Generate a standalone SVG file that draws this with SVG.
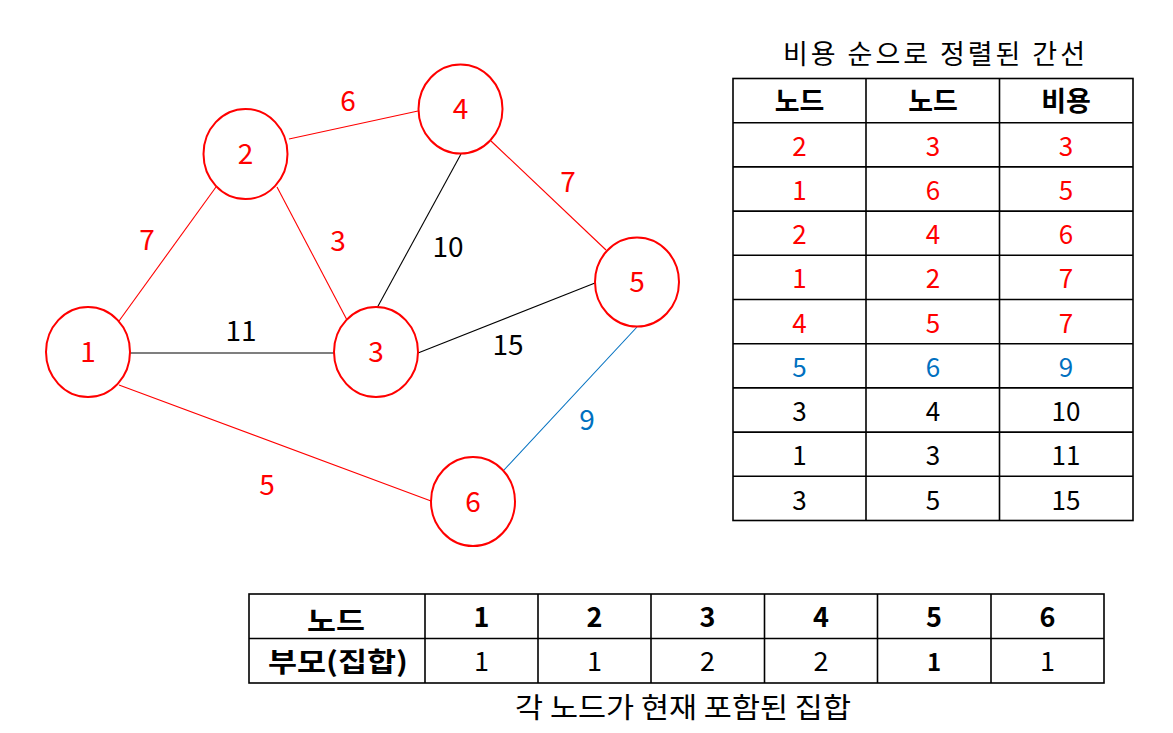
<svg xmlns="http://www.w3.org/2000/svg" width="1173" height="733" viewBox="0 0 1173 733">
<style>
text{font-family:"Noto Sans CJK KR","Noto Sans",sans-serif;text-anchor:middle;}
.node ellipse{fill:#fff;stroke:#FF0000;stroke-width:2;}
.node text{fill:#FF0000;font-size:28px;}
.e{stroke-width:1.1;fill:none;}
.red{stroke:#FF0000;}
.blk{stroke:#000;}
.blu{stroke:#0070C0;}
.lab{font-size:28px;}
.tr{fill:#FF0000;}
.tb{fill:#0070C0;}
.tk{fill:#000;}
.grid{stroke:#000;stroke-width:1.6;fill:none;}
.cell{font-size:26px;}
.hdr{font-size:27px;font-weight:bold;fill:#000;}
.bt{font-size:27px;fill:#000;}
.btb{font-size:27px;font-weight:bold;fill:#000;}
</style>
<rect width="1173" height="733" fill="#fff"/>
<g id="connectors">
<line class="e red" x1="119" y1="321" x2="216" y2="187"/>
<line class="e red" x1="289" y1="139" x2="418" y2="111"/>
<line class="e red" x1="277" y1="187" x2="347" y2="320"/>
<line class="e blk" x1="377" y1="308" x2="461" y2="154"/>
<line class="e blk" x1="130" y1="353" x2="335" y2="353"/>
<line class="e blk" x1="418" y1="353" x2="595" y2="283"/>
<line class="e red" x1="491" y1="141" x2="606" y2="250"/>
<line class="e red" x1="119" y1="385" x2="431" y2="501"/>
<line class="e blu" x1="637" y1="327" x2="504" y2="470"/>
<text class="lab tr" x="348" y="111">6</text>
<text class="lab tr" x="147" y="250">7</text>
<text class="lab tr" x="338" y="251">3</text>
<text class="lab tk" x="448" y="257">10</text>
<text class="lab tr" x="568" y="192">7</text>
<text class="lab tk" x="241" y="341">11</text>
<text class="lab tk" x="508" y="355">15</text>
<text class="lab tb" x="587" y="430">9</text>
<text class="lab tr" x="267" y="495">5</text>
</g>
<g id="node1" class="node"><ellipse cx="88" cy="352" rx="42" ry="45"/><text x="88" y="362">1</text></g>
<g id="node2" class="node"><ellipse cx="245.5" cy="154" rx="42" ry="45"/><text x="245.5" y="164">2</text></g>
<g id="node3" class="node"><ellipse cx="376" cy="352" rx="42" ry="45"/><text x="376" y="362">3</text></g>
<g id="node4" class="node"><ellipse cx="460.5" cy="109" rx="42" ry="44.5"/><text x="460.5" y="119">4</text></g>
<g id="node5" class="node"><ellipse cx="637" cy="282" rx="42" ry="44.5"/><text x="637" y="292">5</text></g>
<g id="node6" class="node"><ellipse cx="473" cy="501.5" rx="42" ry="44.5"/><text x="473" y="511.5">6</text></g>

<g id="sorted-edges-table">
<text x="934" y="64" font-size="27" fill="#000" textLength="302" lengthAdjust="spacing">비용 순으로 정렬된 간선</text>
<rect class="grid" x="733" y="78.5" width="400" height="442"/>
<line class="grid" x1="866" y1="78.5" x2="866" y2="520.5"/>
<line class="grid" x1="999.5" y1="78.5" x2="999.5" y2="520.5"/>
<line class="grid" x1="733" y1="122.7" x2="1133" y2="122.7"/>
<line class="grid" x1="733" y1="166.9" x2="1133" y2="166.9"/>
<line class="grid" x1="733" y1="211.1" x2="1133" y2="211.1"/>
<line class="grid" x1="733" y1="255.3" x2="1133" y2="255.3"/>
<line class="grid" x1="733" y1="299.5" x2="1133" y2="299.5"/>
<line class="grid" x1="733" y1="343.7" x2="1133" y2="343.7"/>
<line class="grid" x1="733" y1="387.9" x2="1133" y2="387.9"/>
<line class="grid" x1="733" y1="432.1" x2="1133" y2="432.1"/>
<line class="grid" x1="733" y1="476.3" x2="1133" y2="476.3"/>
<text class="hdr" x="799.5" y="111">노드</text>
<text class="hdr" x="933" y="111">노드</text>
<text class="hdr" x="1066" y="111">비용</text>
<g class="cell tr">
<text x="799.5" y="156">2</text><text x="933" y="156">3</text><text x="1066" y="156">3</text>
<text x="799.5" y="200">1</text><text x="933" y="200">6</text><text x="1066" y="200">5</text>
<text x="799.5" y="244">2</text><text x="933" y="244">4</text><text x="1066" y="244">6</text>
<text x="799.5" y="288">1</text><text x="933" y="288">2</text><text x="1066" y="288">7</text>
<text x="799.5" y="333">4</text><text x="933" y="333">5</text><text x="1066" y="333">7</text>
</g>
<g class="cell tb">
<text x="799.5" y="377">5</text><text x="933" y="377">6</text><text x="1066" y="377">9</text>
</g>
<g class="cell tk">
<text x="799.5" y="421">3</text><text x="933" y="421">4</text><text x="1066" y="421">10</text>
<text x="799.5" y="465">1</text><text x="933" y="465">3</text><text x="1066" y="465">11</text>
<text x="799.5" y="510">3</text><text x="933" y="510">5</text><text x="1066" y="510">15</text>
</g>
</g>

<g id="parent-table">
<rect class="grid" x="249" y="594" width="855" height="89"/>
<line class="grid" x1="249" y1="638.5" x2="1104" y2="638.5"/>
<line class="grid" x1="425" y1="594" x2="425" y2="683"/>
<line class="grid" x1="538" y1="594" x2="538" y2="683"/>
<line class="grid" x1="651" y1="594" x2="651" y2="683"/>
<line class="grid" x1="764.5" y1="594" x2="764.5" y2="683"/>
<line class="grid" x1="877.5" y1="594" x2="877.5" y2="683"/>
<line class="grid" x1="991" y1="594" x2="991" y2="683"/>
<text class="btb" x="336" y="631" textLength="58" lengthAdjust="spacingAndGlyphs">노드</text>
<text class="btb" x="481.5" y="627">1</text>
<text class="btb" x="594.5" y="627">2</text>
<text class="btb" x="707.5" y="627">3</text>
<text class="btb" x="821" y="627">4</text>
<text class="btb" x="934" y="627">5</text>
<text class="btb" x="1047.5" y="627">6</text>
<text class="btb" x="338" y="672" textLength="140" lengthAdjust="spacingAndGlyphs">부모(집합)</text>
<text class="bt" x="481.5" y="671">1</text>
<text class="bt" x="594.5" y="671">1</text>
<text class="bt" x="707.5" y="671">2</text>
<text class="bt" x="821" y="671">2</text>
<text class="btb" x="934" y="671" style="font-size:24px">1</text>
<text class="bt" x="1047.5" y="671">1</text>
<text x="683" y="718" font-size="28" fill="#000" textLength="336" lengthAdjust="spacingAndGlyphs">각 노드가 현재 포함된 집합</text>
</g>
</svg>
